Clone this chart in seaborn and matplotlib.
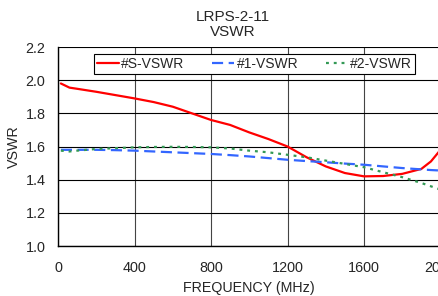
import numpy as np
import pandas as pd
import seaborn as sns
import matplotlib.pyplot as plt

# values
freq = [15, 60, 100, 200, 300, 400, 500, 600, 700, 800, 900, 1000,
        1100, 1200, 1300, 1400, 1500, 1600, 1700, 1800, 1900, 1950, 2000]
vswr_s = [1.98, 1.955, 1.948, 1.93, 1.91, 1.89, 1.868, 1.84, 1.80, 1.76, 1.73, 1.685,
          1.645, 1.60, 1.535, 1.48, 1.44, 1.42, 1.422, 1.435, 1.465, 1.51, 1.58]
vswr_1 = [1.58, 1.58, 1.58, 1.58, 1.578, 1.575, 1.57, 1.565, 1.56, 1.555, 1.548, 1.54,
          1.53, 1.52, 1.512, 1.505, 1.497, 1.49, 1.48, 1.47, 1.462, 1.458, 1.455]
vswr_2 = [1.575, 1.57, 1.575, 1.585, 1.59, 1.595, 1.597, 1.598, 1.597, 1.595, 1.588, 1.575,
          1.565, 1.55, 1.535, 1.515, 1.495, 1.475, 1.445, 1.415, 1.38, 1.36, 1.34]

sns.set_style('white')
plt.rcParams['font.family'] = ['Liberation Sans', 'DejaVu Sans']

fig = plt.figure(figsize=(4.38, 2.96), dpi=100)
ax = fig.add_axes([58/438, 1-246/296, (440.5-58)/438, (246-47)/296])

sns.lineplot(x=freq, y=vswr_s, ax=ax, color='#ff0000', lw=1.6, label='#S-VSWR')
sns.lineplot(x=freq, y=vswr_1, ax=ax, color='#3366ff', lw=1.6, label='#1-VSWR')
sns.lineplot(x=freq, y=vswr_2, ax=ax, color='#339955', lw=1.6, label='#2-VSWR')
ax.lines[1].set_linestyle((0, (5, 2.5)))
ax.lines[2].set_linestyle((0, (1.3, 2.2)))

ax.set_xlim(0, 2000)
ax.set_ylim(1.0, 2.2)
ax.set_xticks(np.arange(0, 2001, 400))
ax.set_yticks(np.arange(1.0, 2.21, 0.2))
ax.yaxis.set_major_formatter(plt.FormatStrFormatter('%.1f'))
ax.grid(True, axis='y', color='#000000', lw=0.8)
ax.grid(True, axis='x', color='#444444', lw=0.8)
ax.set_axisbelow(True)
for s in ['top', 'right']:
    ax.spines[s].set_visible(False)
for s in ['left', 'bottom']:
    ax.spines[s].set_color('black')
    ax.spines[s].set_linewidth(1.0)
ax.tick_params(axis='both', direction='out', length=4, width=0.8, color='black',
               labelsize=10.4)
ax.tick_params(axis='y', pad=5)
ax.tick_params(axis='x', pad=7)

ax.set_xlabel('FREQUENCY (MHz)', fontsize=10.3, labelpad=4)
ax.set_ylabel('VSWR', fontsize=10.3, labelpad=3)

fig.text(233/438, 1-17/296, 'LRPS-2-11', ha='center', va='center', fontsize=11)
fig.text(233/438, 1-32/296, 'VSWR', ha='center', va='center', fontsize=11)

leg = ax.legend(loc='upper left', bbox_to_anchor=(94/438, 1-54/296),
                bbox_transform=fig.transFigure, ncol=3, fontsize=10,
                frameon=True, fancybox=False, framealpha=1, edgecolor='black',
                borderaxespad=0, handlelength=1.55, columnspacing=2.0,
                handletextpad=0.2, borderpad=0.22)
leg.get_frame().set_linewidth(0.8)

fig.savefig('out.png', dpi=100)
